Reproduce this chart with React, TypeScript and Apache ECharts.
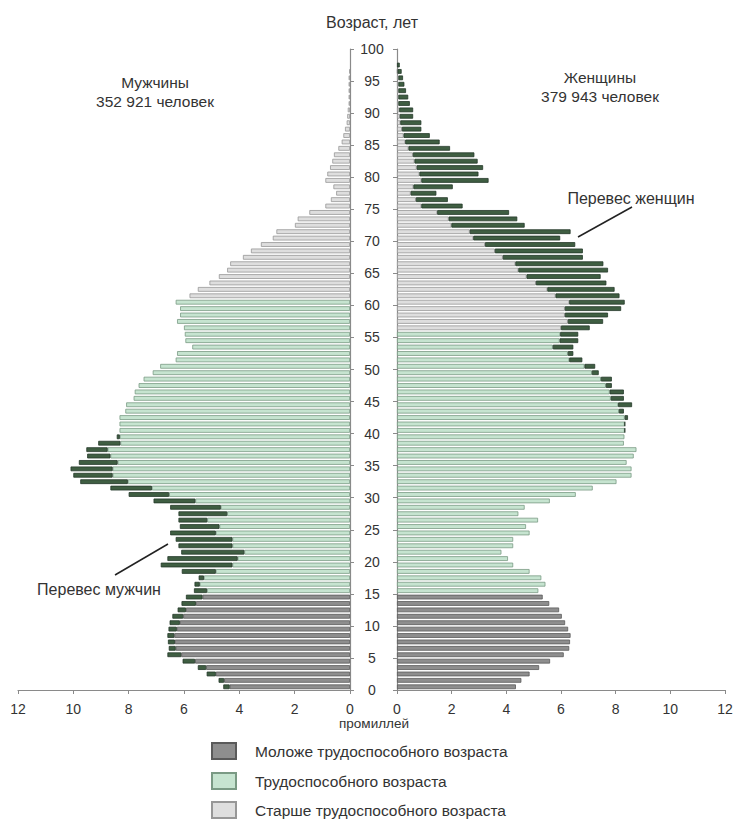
import React, { useEffect, useRef } from "react";
import * as echarts from "echarts";

// Age categories (one bar per year of age, bottom to top)
const ages: string[] = Array.from({ length: 100 }, (_, i) => String(i));

// Per-mille of the population, men, by age 0..99
const maleValues = [
  4.58, 4.75, 5.18, 5.5, 6.05, 6.6, 6.55, 6.58, 6.6, 6.56,
  6.52, 6.42, 6.23, 6.09, 5.93, 5.64, 5.62, 5.47, 6.08, 6.84,
  6.6, 6.1, 6.2, 6.3, 6.5, 6.15, 6.2, 6.2, 6.5, 7.1,
  8.0, 8.66, 9.75, 10.0, 10.1, 9.8, 9.5, 9.53, 9.1, 8.43,
  8.33, 8.33, 8.33, 8.12, 8.09, 7.82, 7.78, 7.64, 7.46, 7.13,
  6.86, 6.3, 6.25, 5.7, 5.95, 5.97, 6.0, 6.25, 6.14, 6.14,
  6.3, 5.8, 5.5, 5.08, 4.74, 4.44, 4.33, 3.87, 3.58, 3.22,
  2.79, 2.66, 1.99, 1.89, 1.47, 0.89, 0.69, 0.5, 0.6, 0.89,
  0.82, 0.72, 0.64, 0.58, 0.42, 0.3, 0.24, 0.18, 0.12, 0.1,
  0.08, 0.05, 0.05, 0.05, 0.05, 0.05, 0.02, 0, 0, 0,
];

// Per-mille of the population, women, by age 0..99
const femaleValues = [
  4.35, 4.55, 4.85, 5.2, 5.6, 6.1, 6.3, 6.33, 6.35, 6.26,
  6.15, 6.03, 5.93, 5.57, 5.33, 5.17, 5.43, 5.28, 4.85, 4.25,
  4.06, 3.82, 4.25, 4.25, 4.85, 4.72, 5.16, 4.44, 4.67, 5.59,
  6.54, 7.16, 8.03, 8.58, 8.58, 8.4, 8.66, 8.76, 8.3, 8.32,
  8.34, 8.34, 8.45, 8.3, 8.6, 8.3, 8.3, 7.86, 7.86, 7.38,
  7.25, 6.78, 6.45, 6.45, 6.63, 6.63, 7.05, 7.54, 7.72, 8.2,
  8.33, 8.14, 7.96, 7.66, 7.45, 7.72, 7.55, 6.8, 6.8, 6.52,
  5.97, 6.35, 4.67, 4.4, 4.1, 2.4, 1.86, 1.44, 2.04, 3.35,
  2.98, 3.15, 2.95, 2.83, 1.94, 1.56, 1.2, 0.89, 0.89, 0.59,
  0.59, 0.47, 0.41, 0.33, 0.27, 0.22, 0.17, 0.1, 0, 0,
];

// Age group boundaries (last bar index of each group)
const youngLast = 14;
const maleWorkingLast = 60;
const femaleWorkingLast = 55;

const groupNames = [
  "Моложе трудоспособного возраста",
  "Трудоспособного возраста",
  "Старше трудоспособного возраста",
];

const FONT = "'Liberation Sans', Arial, sans-serif";
const TEXT = "#333333";

const styles = {
  young: { color: "#8e8e8e", borderColor: "#5a5a5a", borderWidth: 0.8 },
  working: { color: "#c6e4d0", borderColor: "#7a9a84", borderWidth: 0.8 },
  old: { color: "#dedede", borderColor: "#979797", borderWidth: 0.8 },
  excess: { color: "#3f5e42", borderColor: "#25382a", borderWidth: 0.8 },
};

function splitSide(values: number[], other: number[], workingLast: number) {
  const young: (number | string)[] = [];
  const working: (number | string)[] = [];
  const old: (number | string)[] = [];
  const excess: (number | string)[] = [];
  values.forEach((v, i) => {
    const common = Math.min(v, other[i]);
    const ex = v - other[i];
    const has = common > 0;
    young.push(has && i <= youngLast ? common : "-");
    working.push(has && i > youngLast && i <= workingLast ? common : "-");
    old.push(has && i > workingLast ? common : "-");
    excess.push(ex > 0.001 ? +ex.toFixed(3) : "-");
  });
  return { young, working, old, excess };
}

export default function App() {
  const ref = useRef<HTMLDivElement>(null);

  useEffect(() => {
    if (!ref.current) return;
    const chart = echarts.init(ref.current, null, { renderer: "svg" });
    const male = splitSide(maleValues, femaleValues, maleWorkingLast);
    const female = splitSide(femaleValues, maleValues, femaleWorkingLast);

    const gridTop = 49;
    const gridHeight = 641;

    const barCommon = {
      type: "bar",
      barCategoryGap: "26%",
      silent: true,
    };

    const sideSeries = (d: any, xi: number, yi: number, stack: string) => [
      { ...barCommon, name: groupNames[0], xAxisIndex: xi, yAxisIndex: yi, stack, data: d.young, itemStyle: styles.young },
      { ...barCommon, name: groupNames[1], xAxisIndex: xi, yAxisIndex: yi, stack, data: d.working, itemStyle: styles.working },
      { ...barCommon, name: groupNames[2], xAxisIndex: xi, yAxisIndex: yi, stack, data: d.old, itemStyle: styles.old },
      { ...barCommon, name: "excess", xAxisIndex: xi, yAxisIndex: yi, stack, data: d.excess, itemStyle: styles.excess },
    ];

    const axisLineStyle = { lineStyle: { color: "#8a8a8a", width: 1.2 } };

    const legendTops = [742, 772, 801];
    const legends = groupNames.map((name, i) => ({
      data: [name],
      left: 211,
      top: legendTops[i],
      padding: 0,
      icon: "rect",
      itemWidth: 24,
      itemHeight: 16,
      selectedMode: false,
      textStyle: { color: TEXT, fontSize: 15.5, fontFamily: FONT, padding: [0, 0, 0, 14] },
    }));

    const option: any = {
      animation: false,
      backgroundColor: "#ffffff",
      textStyle: { fontFamily: FONT },
      grid: [
        { left: 18, width: 332, top: gridTop, height: gridHeight },
        { left: 397, width: 328, top: gridTop, height: gridHeight },
      ],
      xAxis: [
        {
          type: "value", gridIndex: 0, min: 0, max: 12, interval: 2, inverse: true,
          axisLine: { show: true, ...axisLineStyle },
          axisTick: { show: true, length: 4, lineStyle: { color: "#8a8a8a" } },
          axisLabel: { color: TEXT, fontSize: 14, margin: 12, fontFamily: FONT },
          splitLine: { show: false },
        },
        {
          type: "value", gridIndex: 1, min: 0, max: 12, interval: 2,
          axisLine: { show: true, ...axisLineStyle },
          axisTick: { show: true, length: 4, lineStyle: { color: "#8a8a8a" } },
          axisLabel: { color: TEXT, fontSize: 14, margin: 12, fontFamily: FONT },
          splitLine: { show: false },
        },
      ],
      yAxis: [
        { type: "category", gridIndex: 0, data: ages, show: false, position: "right" },
        {
          type: "value", gridIndex: 0, min: 0, max: 100, interval: 5, position: "right",
          axisLine: { show: true, ...axisLineStyle },
          axisTick: { show: true, length: 4, lineStyle: { color: "#8a8a8a" } },
          axisLabel: { color: TEXT, fontSize: 14, margin: 22, align: "center", fontFamily: FONT },
          splitLine: { show: false },
        },
        { type: "category", gridIndex: 1, data: ages, show: false, position: "left" },
        {
          type: "value", gridIndex: 1, min: 0, max: 100, interval: 5, position: "left",
          axisLine: { show: true, ...axisLineStyle },
          axisTick: { show: true, length: 4, lineStyle: { color: "#8a8a8a" } },
          axisLabel: { show: false },
          splitLine: { show: false },
        },
      ],
      legend: legends,
      series: [
        ...sideSeries(male, 0, 0, "male"),
        ...sideSeries(female, 1, 2, "female"),
      ],
      graphic: [
        { type: "text", x: 372, y: 22, style: { text: "Возраст, лет", fill: TEXT, font: `16px ${FONT}`, align: "center", verticalAlign: "middle" } },
        { type: "text", x: 155, y: 82, style: { text: "Мужчины", fill: TEXT, font: `15.5px ${FONT}`, align: "center", verticalAlign: "middle" } },
        { type: "text", x: 155, y: 101, style: { text: "352 921 человек", fill: TEXT, font: `15.5px ${FONT}`, align: "center", verticalAlign: "middle" } },
        { type: "text", x: 600, y: 77, style: { text: "Женщины", fill: TEXT, font: `15.5px ${FONT}`, align: "center", verticalAlign: "middle" } },
        { type: "text", x: 600, y: 96, style: { text: "379 943 человек", fill: TEXT, font: `15.5px ${FONT}`, align: "center", verticalAlign: "middle" } },
        { type: "text", x: 631, y: 198, style: { text: "Перевес женщин", fill: TEXT, font: `16px ${FONT}`, align: "center", verticalAlign: "middle" } },
        { type: "line", shape: { x1: 578, y1: 237, x2: 632, y2: 207 }, style: { stroke: "#222", lineWidth: 1.5 } },
        { type: "text", x: 99, y: 589, style: { text: "Перевес мужчин", fill: TEXT, font: `16px ${FONT}`, align: "center", verticalAlign: "middle" } },
        { type: "line", shape: { x1: 115, y1: 575, x2: 168, y2: 544 }, style: { stroke: "#222", lineWidth: 1.5 } },
        { type: "text", x: 374, y: 723, style: { text: "промиллей", fill: TEXT, font: `13.5px ${FONT}`, align: "center", verticalAlign: "middle" } },
      ],
    };

    chart.setOption(option);
    return () => chart.dispose();
  }, []);

  return (
    <div
      ref={ref}
      style={{ position: "absolute", left: 0, top: 0, width: 740, height: 821 }}
    />
  );
}
